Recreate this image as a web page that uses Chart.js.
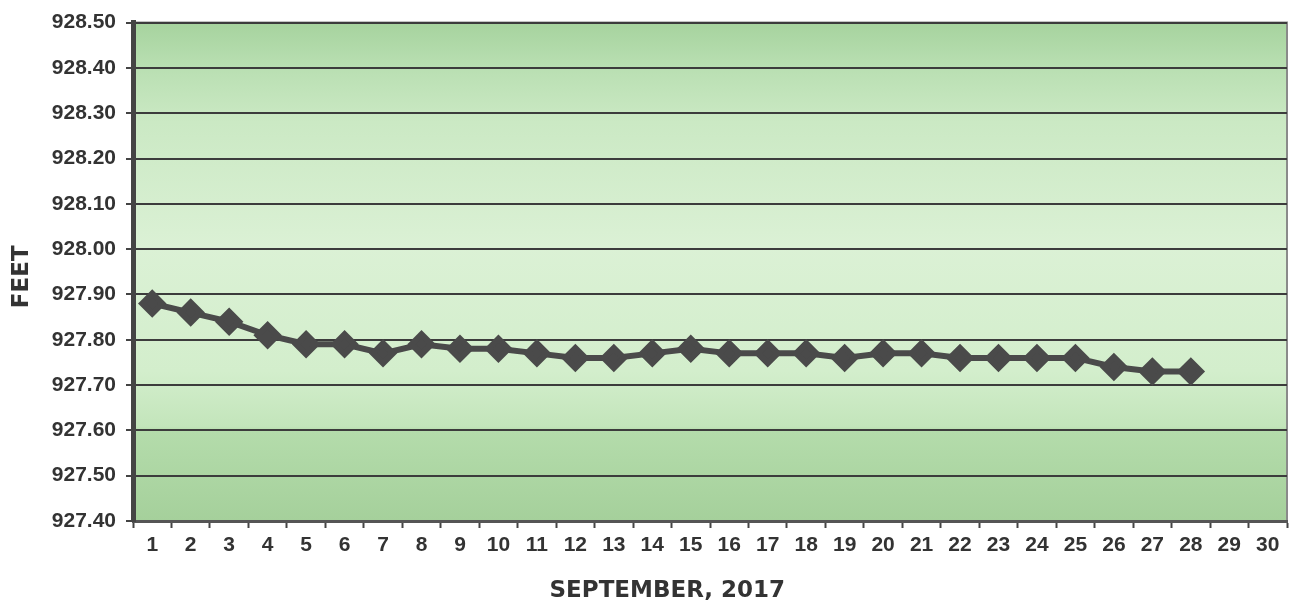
<!DOCTYPE html>
<html lang="en">
<head>
<meta charset="UTF-8">
<title>Lake Level - September 2017</title>
<script src="https://cdn.jsdelivr.net/npm/chart.js"></script>
<style>
    html, body { margin: 0; padding: 0; background: #fff; }
    .chart-box { width: 1303px; height: 610px; position: relative; }
</style>
</head>
<body>
<div class="chart-box">
    <canvas id="levelChart"></canvas>
</div>
<script>
// data
const days = ['1','2','3','4','5','6','7','8','9','10','11','12','13','14','15',
              '16','17','18','19','20','21','22','23','24','25','26','27','28','29','30'];
const levels = [927.88, 927.86, 927.84, 927.81, 927.79, 927.79, 927.77, 927.79, 927.78, 927.78,
                927.77, 927.76, 927.76, 927.77, 927.78, 927.77, 927.77, 927.77, 927.76, 927.77,
                927.77, 927.76, 927.76, 927.76, 927.76, 927.74, 927.73, 927.73, null, null];
const yMin = 927.40;
const yMax = 928.50;
const yStep = 0.10;
const xTitle = 'SEPTEMBER, 2017';
const yTitle = 'FEET';

// green banded background behind the plot
const plotBackground = {
    id: 'plotBackground',
    beforeDraw(chart) {
        const { ctx, chartArea: a } = chart;
        const g = ctx.createLinearGradient(0, a.top, 0, a.bottom);
        g.addColorStop(0, '#a6d39e');
        g.addColorStop(0.09, '#b9dfb2');
        g.addColorStop(0.2, '#cbe9c4');
        g.addColorStop(0.45, '#dbf1d5');
        g.addColorStop(0.7, '#d3eecc');
        g.addColorStop(0.81, '#c3e5bb');
        g.addColorStop(0.82, '#b4dcab');
        g.addColorStop(1, '#a5d09b');
        ctx.save();
        ctx.fillStyle = g;
        ctx.fillRect(a.left, a.top, a.right - a.left, a.bottom - a.top);
        ctx.strokeStyle = '#8a8a8a';
        ctx.lineWidth = 2;
        ctx.beginPath();
        ctx.moveTo(a.left, a.top);
        ctx.lineTo(a.right, a.top);
        ctx.lineTo(a.right, a.bottom);
        ctx.stroke();
        ctx.restore();
    }
};

// axis titles sit a little off-centre in the original, so draw them by hand
const axisTitles = {
    id: 'axisTitles',
    afterDraw(chart) {
        const { ctx, chartArea: a } = chart;
        ctx.save();
        ctx.fillStyle = '#333';
        ctx.font = 'bold 23px "DejaVu Sans", sans-serif';
        ctx.textAlign = 'center';
        ctx.textBaseline = 'middle';
        ctx.fillText(xTitle, a.left + (a.right - a.left) * 0.463, 591);
        ctx.translate(22, a.top + (a.bottom - a.top) * 0.51);
        ctx.rotate(-Math.PI / 2);
        ctx.fillText(yTitle, 0, 0);
        ctx.restore();
    }
};

const tickFont = { family: 'Arial, "Liberation Sans", sans-serif', size: 21, weight: 'bold' };

new Chart(document.getElementById('levelChart'), {
    type: 'line',
    data: {
        labels: days,
        datasets: [{
            data: levels,
            borderColor: '#4a4a4a',
            backgroundColor: '#4a4a4a',
            borderWidth: 6,
            pointStyle: 'rectRot',
            pointRadius: 10,
            pointHoverRadius: 10,
            tension: 0,
            fill: false,
            spanGaps: false
        }]
    },
    options: {
        responsive: true,
        maintainAspectRatio: false,
        animation: false,
        layout: { padding: { top: 8, right: 9, left: 0, bottom: 0 } },
        plugins: {
            legend: { display: false },
            tooltip: { enabled: false }
        },
        scales: {
            x: {
                offset: true,
                afterFit(scale) { scale.height = 89; },
                grid: {
                    offset: true,
                    drawOnChartArea: false,
                    drawTicks: true,
                    tickLength: 7,
                    tickWidth: 2,
                    tickColor: '#444'
                },
                border: { display: true, color: '#555', width: 3 },
                ticks: { color: '#333', font: tickFont, padding: 5, maxRotation: 0, autoSkip: false }
            },
            y: {
                min: yMin,
                max: yMax,
                afterFit(scale) { scale.width = 133; },
                ticks: {
                    stepSize: yStep,
                    color: '#333',
                    font: tickFont,
                    padding: 10,
                    callback: v => v.toFixed(2)
                },
                grid: {
                    color: '#3c3c3c',
                    lineWidth: 2,
                    drawTicks: true,
                    tickLength: 7,
                    tickColor: '#444'
                },
                border: { display: true, color: '#444', width: 5 }
            }
        }
    },
    plugins: [plotBackground, axisTitles]
});
</script>
</body>
</html>
